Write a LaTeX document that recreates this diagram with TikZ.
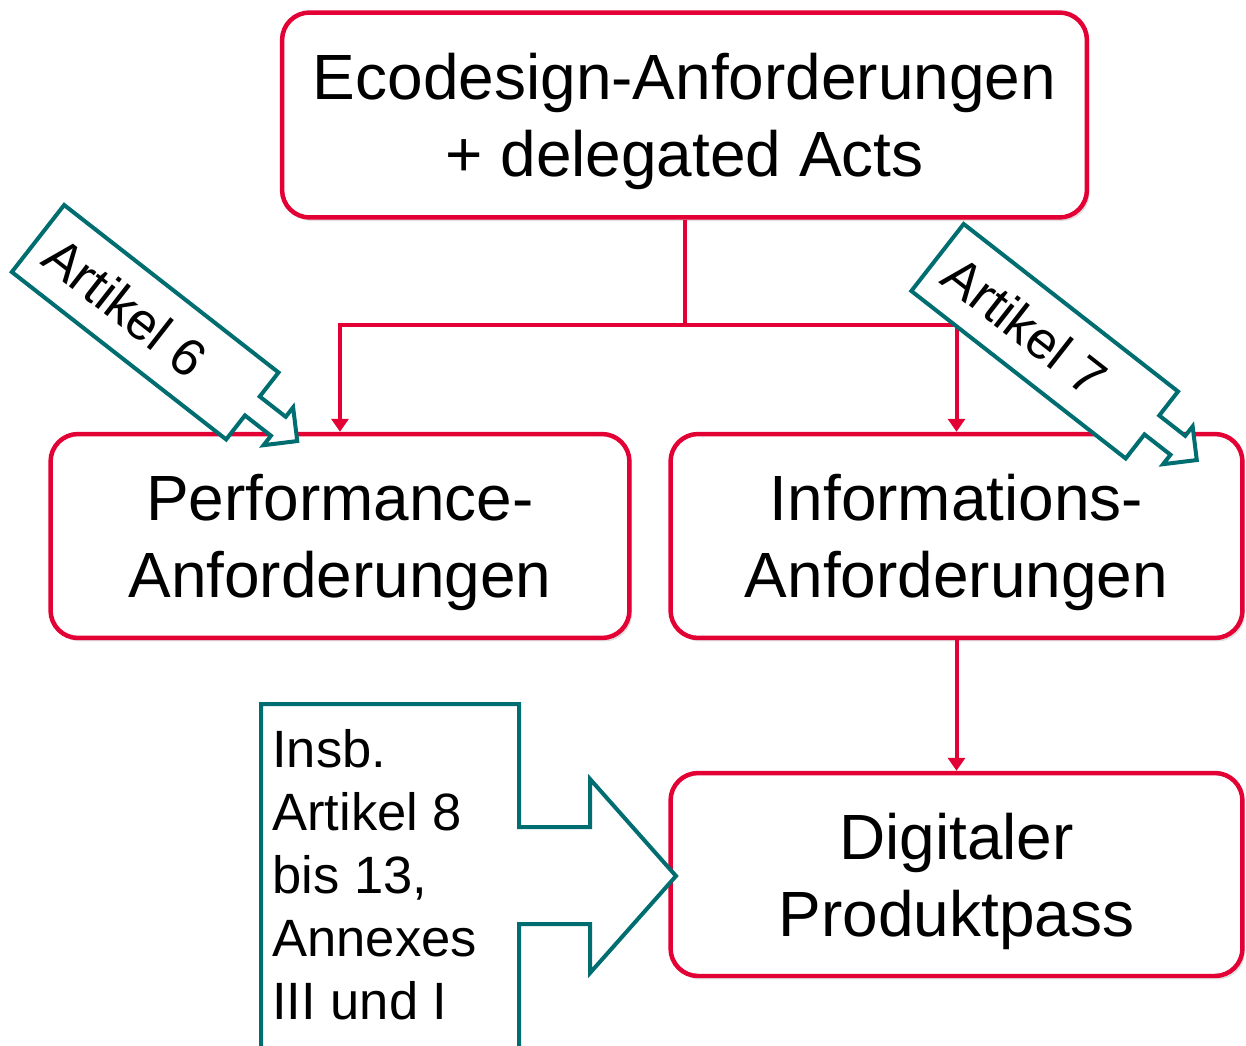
\documentclass[tikz,border=0pt]{standalone}
\usepackage{fontspec}
\setmainfont{Liberation Sans}
\usepackage{tikz}
\usetikzlibrary{arrows.meta, shadows}
\definecolor{ecored}{RGB}{227,0,52}
\definecolor{callteal}{RGB}{0,110,112}
\newcommand{\boxfont}{\fontsize{36.4}{43.8}\selectfont}
\newcommand{\callfont}{\fontsize{29.9}{35.9}\selectfont}

\begin{document}
\begin{tikzpicture}[x=0.02cm, y=-0.02cm,
  redbox/.style={draw=ecored, line width=0.09cm, rounded corners=0.55cm, fill=white,
    align=center, font=\boxfont, inner sep=0pt, text depth=0pt,
    drop shadow={shadow xshift=0.05cm, shadow yshift=-0.07cm, opacity=0.25}},
  redline/.style={draw=ecored, line width=0.08cm},
  redarrow/.style={redline, -{Triangle[width=0.34cm, length=0.26cm]}},
  callout/.style={draw=callteal, line width=0.08cm, fill=white, line join=miter}]
  \useasboundingbox (0,0) rectangle (1246,1045);
  \clip (0,0) rectangle (1246,1045);

  % top box
  \node[redbox, minimum width=16.1cm, minimum height=4.1cm] (eco) at (684.5,115)
    {Ecodesign-Anforderungen\\+ delegated Acts};

  % requirement boxes
  \node[redbox, minimum width=11.58cm, minimum height=4.08cm] (perf) at (340,536)
    {Performance-\\Anforderungen};
  \node[redbox, minimum width=11.44cm, minimum height=4.08cm] (info) at (956.5,536)
    {Informations-\\Anforderungen};

  % Produktpass box
  \node[redbox, minimum width=11.44cm, minimum height=4.06cm] (dpp) at (956.5,874.5)
    {Digitaler\\Produktpass};

  % connectors
  \draw[redline] (eco.south) -- ++(0,105) coordinate (fork);
  \draw[redarrow] (fork) -| (perf.north);
  \draw[redarrow] (fork) -| (info.north);
  \draw[redarrow] (info.south) -- (dpp.north);

  % Artikel 6 callout
  \begin{scope}[shift={(38,238.5)}, rotate=-38]
    \draw[callout] (0,-42.5) -- (272,-42.5) -- (272,-12) -- (305,-12) -- (305,-24)
      -- (329,0) -- (305,24) -- (305,12) -- (272,12) -- (272,42.5) -- (0,42.5) -- cycle;
    \node[rotate=-38, font=\callfont] (art6) at (111,0) {Artikel 6};
  \end{scope}

  % Artikel 7 callout
  \begin{scope}[shift={(937.5,257.5)}, rotate=-38]
    \draw[callout] (0,-42.5) -- (272,-42.5) -- (272,-12) -- (305,-12) -- (305,-24)
      -- (329,0) -- (305,24) -- (305,12) -- (272,12) -- (272,42.5) -- (0,42.5) -- cycle;
    \node[rotate=-38, font=\callfont] (art7) at (111,0) {Artikel 7};
  \end{scope}

  % Insb. callout
  \draw[callout] (261,704) -- (519,704) -- (519,827) -- (590,827) -- (590,779)
    -- (676,876) -- (590,973) -- (590,924) -- (519,924) -- (519,1070) -- (261,1070) -- cycle;
  \node[font=\callfont, align=left, anchor=north west, inner sep=0pt] (insb) at (272,729)
    {Insb.\\Artikel 8\\bis 13,\\Annexes\\III und I};
\end{tikzpicture}
\end{document}
